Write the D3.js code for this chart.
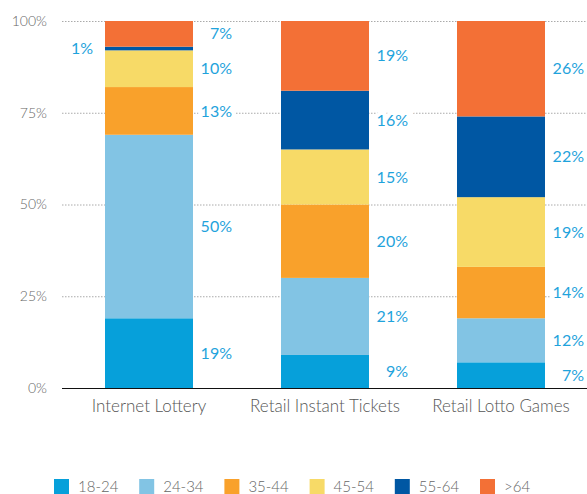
<!DOCTYPE html>
<html>
<head>
<meta charset="utf-8">
<script src="https://cdn.jsdelivr.net/npm/d3@7"></script>
<style>
  body { margin: 0; background: #fff; }
  svg { display: block; font-family: Lato, "Open Sans", sans-serif; }
</style>
</head>
<body>
<svg id="chart" width="587" height="494"></svg>
<script>
const categories = ["Internet Lottery", "Retail Instant Tickets", "Retail Lotto Games"]
const ageGroups = ["18-24", "24-34", "35-44", "45-54", "55-64", ">64"]
const age1824 = [19, 9, 7]
const age2434 = [50, 21, 12]
const age3544 = [13, 20, 14]
const age4554 = [10, 15, 19]
const age5564 = [1, 16, 22]
const ageOver64 = [7, 19, 26]
const yTicks = [0, 25, 50, 75, 100]
const colors = ["#06a0da", "#82c4e4", "#f9a12b", "#f7da67", "#0057a3", "#f37036"]

const series = [age1824, age2434, age3544, age4554, age5564, ageOver64]
const table = categories.map((c, i) => {
    let row = { name: c }
    ageGroups.forEach((g, j) => row[g] = series[j][i])
    return row
})

const svg = d3.select("#chart")
const x = d3.scaleBand().domain(categories).range([61, 589]).paddingInner(0.5).paddingOuter(0.25)
const y = d3.scaleLinear().domain([0, 100]).range([388, 21])
const labelColor = "#1fa3dc"

// gridlines
svg.append("g")
    .selectAll("line")
    .data(yTicks.filter(d => d > 0))
    .join("line")
    .attr("x1", 62).attr("x2", 587)
    .attr("y1", d => y(d) + 0.5).attr("y2", d => y(d) + 0.5)
    .attr("stroke", "#aaa")
    .attr("stroke-dasharray", "1.5,1.5")

// y tick labels
svg.append("g")
    .selectAll("text")
    .data(yTicks)
    .join("text")
    .attr("x", 47).attr("y", d => y(d))
    .attr("dy", "0.35em")
    .attr("text-anchor", "end")
    .attr("font-size", 14)
    .attr("font-weight", 300)
    .attr("fill", "#666")
    .text(d => d + "%")

const stacked = d3.stack().keys(ageGroups)(table)

svg.append("g")
    .selectAll("g")
    .data(stacked)
    .join("g")
    .attr("fill", (d, i) => colors[i])
    .selectAll("rect")
    .data(d => d)
    .join("rect")
    .attr("x", d => x(d.data.name))
    .attr("width", x.bandwidth())
    .attr("y", d => y(d[1]))
    .attr("height", d => y(d[0]) - y(d[1]))

// value labels (white halo breaks the gridlines like the original)
stacked.forEach((layer, i) => {
    layer.forEach(d => {
        const v = d[1] - d[0]
        const small = v < 3
        svg.append("text")
            .attr("x", small ? x(d.data.name) - 12 : x(d.data.name) + x.bandwidth() + 39)
            .attr("y", y((d[0] + d[1]) / 2))
            .attr("dy", "0.35em")
            .attr("text-anchor", "end")
            .attr("font-size", 16)
            .attr("font-weight", 400)
            .attr("fill", labelColor)
            .attr("stroke", "#fff")
            .attr("stroke-width", 8)
            .attr("paint-order", "stroke")
            .text(v + "%")
    })
})

// baseline
svg.append("line")
    .attr("x1", 62).attr("x2", 587)
    .attr("y1", y(0) + 0.5).attr("y2", y(0) + 0.5)
    .attr("stroke", "#111")
    .attr("stroke-width", 1)

// category labels
svg.append("g")
    .attr("transform", "translate(0," + y(0) + ")")
    .call(d3.axisBottom(x).tickSize(0).tickPadding(12))
    .call(g => g.select(".domain").remove())
    .selectAll("text")
    .attr("font-size", 17)
    .attr("font-weight", 300)
    .attr("font-family", "Lato, sans-serif")
    .attr("fill", "#555")

// legend
const legend = svg.append("g")
    .selectAll("g")
    .data(ageGroups)
    .join("g")
    .attr("transform", (d, i) => "translate(" + (54 + i * 85.2) + ",479)")
legend.append("rect")
    .attr("width", 15).attr("height", 15)
    .attr("fill", (d, i) => colors[i])
legend.append("text")
    .attr("x", 24).attr("y", 13)
    .attr("font-size", 15)
    .attr("font-weight", 300)
    .attr("fill", "#666")
    .text(d => d)
</script>
</body>
</html>
